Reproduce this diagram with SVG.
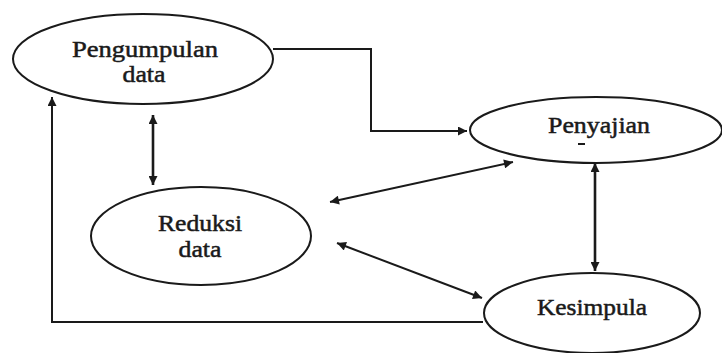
<svg xmlns="http://www.w3.org/2000/svg" width="722" height="353" viewBox="0 0 722 353">
<style>
.node ellipse{fill:#fff;stroke:#1a1a1a;stroke-width:2}
.node text{font-family:"Liberation Serif","Times New Roman",serif;font-size:23px;font-weight:normal;fill:#1a1a1a;stroke:#1a1a1a;stroke-width:0.5;text-anchor:middle}
.conn path,.conn line{fill:none;stroke:#1a1a1a;stroke-width:2}
.conn .thick{stroke-width:2.6}
</style>
<defs>
<marker id="ah" viewBox="0 0 10 10" refX="10" refY="5" markerWidth="11" markerHeight="9" markerUnits="userSpaceOnUse" orient="auto-start-reverse">
<path d="M0,0 L10,5 L0,10 z" fill="#1a1a1a"/>
</marker>
</defs>
<rect width="722" height="353" fill="#fff"/>
<g class="conn" id="connectors">
<path d="M273,49 H371 V131 H467" marker-end="url(#ah)"/>
<path d="M483,322 H52 V97" marker-end="url(#ah)"/>
<line class="thick" x1="153" y1="115" x2="153" y2="185" marker-start="url(#ah)" marker-end="url(#ah)"/>
<line class="thick" x1="595" y1="163" x2="595" y2="271" marker-start="url(#ah)" marker-end="url(#ah)"/>
<line x1="513" y1="162" x2="330" y2="202" marker-start="url(#ah)" marker-end="url(#ah)"/>
<line x1="337" y1="243" x2="482" y2="298" marker-start="url(#ah)" marker-end="url(#ah)"/>
</g>
<g class="node" id="pengumpulan">
<ellipse cx="143" cy="59" rx="130" ry="45"/>
<text x="145" y="57" textLength="146" lengthAdjust="spacingAndGlyphs">Pengumpulan</text>
<text x="144" y="82" textLength="43" lengthAdjust="spacingAndGlyphs">data</text>
</g>
<g class="node" id="penyajian">
<ellipse cx="596" cy="130" rx="126" ry="33"/>
<text x="599" y="133" textLength="102" lengthAdjust="spacingAndGlyphs">Penyajian</text>
<line x1="578" y1="144" x2="585" y2="144" stroke="#1a1a1a" stroke-width="2"/>
</g>
<g class="node" id="reduksi">
<ellipse cx="201" cy="236" rx="110" ry="49"/>
<text x="200" y="231" textLength="84" lengthAdjust="spacingAndGlyphs">Reduksi</text>
<text x="200" y="257" textLength="43" lengthAdjust="spacingAndGlyphs">data</text>
</g>
<g class="node" id="kesimpulan">
<ellipse cx="592" cy="313" rx="108" ry="40"/>
<text x="592" y="315" textLength="110" lengthAdjust="spacingAndGlyphs">Kesimpula</text>
</g>
</svg>
